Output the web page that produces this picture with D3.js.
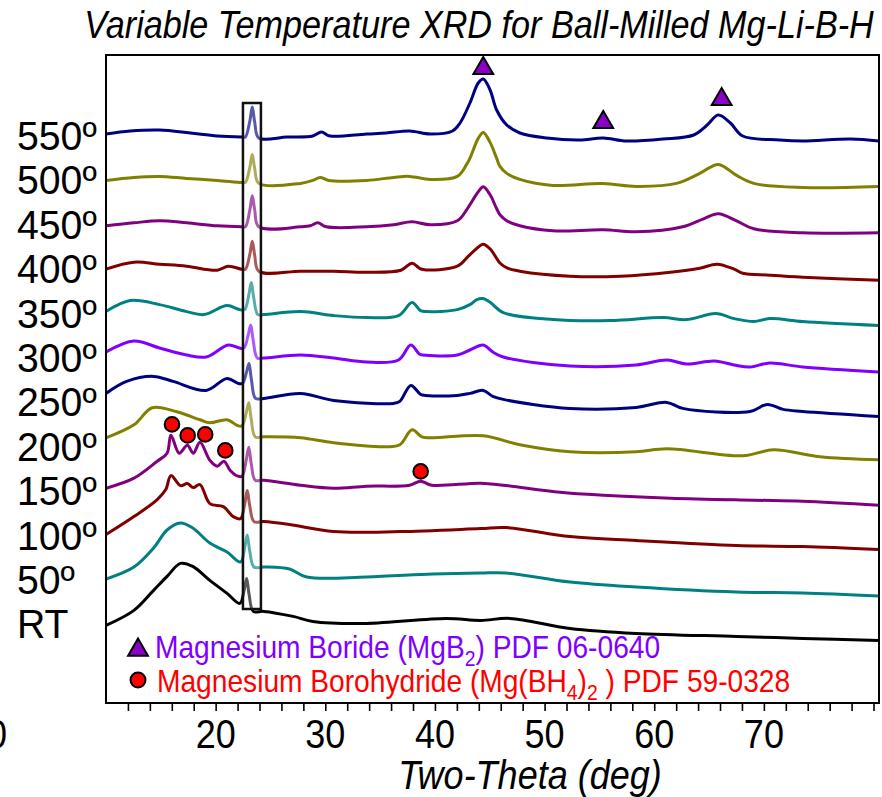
<!DOCTYPE html>
<html>
<head>
<meta charset="utf-8">
<script src="https://cdn.jsdelivr.net/npm/d3@7"></script>
<style>
html, body { margin: 0; padding: 0; background: #fff; }
svg { display: block; }
text { font-family: "Liberation Sans", Arial, sans-serif; }
</style>
</head>
<body>
<div id="chart"></div>
<script>
// [two-theta (deg), intensity (a.u.) above the pattern's own baseline]
var rt = [[10.00,13],[12.55,28],[14.34,48],[15.57,62],[16.79,75],[17.91,72],[19.47,58],[21.04,45],[22.21,35],[22.60,48],[22.83,60],[23.05,44],[23.44,27],[24.39,27],[27.07,22],[28.86,17],[33.77,15],[41.04,20],[44.16,18],[46.85,20],[52.32,10],[58.35,5],[67.51,2],[73.55,0],[80.50,-2]];
var t50 = [[10.00,15],[12.55,27],[14.34,46],[15.57,64],[16.79,71],[17.91,66],[19.47,51],[21.04,42],[22.27,32],[22.66,47],[22.88,59],[23.11,43],[23.50,27],[24.39,27],[26.74,25],[28.30,17],[33.77,17],[39.81,20],[44.16,21],[46.51,21],[52.32,12],[58.35,7],[67.51,2],[73.55,1],[80.50,-2]];
var t100 = [[10.00,15],[12.55,33],[14.67,50],[15.45,60],[15.92,74],[16.79,64],[17.42,66],[17.96,62],[18.57,65],[19.47,46],[20.70,43],[21.60,33],[22.27,31],[22.66,46],[22.88,59],[23.11,44],[23.50,28],[24.39,28],[26.74,25],[30.76,18],[36.79,18],[44.16,21],[46.51,22],[52.32,13],[58.35,9],[67.51,4],[73.55,3],[80.50,0]];
var t150 = [[10.00,17],[12.55,27],[14.67,44],[15.57,52],[15.92,70],[16.68,52],[17.42,60],[17.96,52],[18.57,63],[19.47,45],[20.15,39],[20.76,44],[21.31,35],[22.04,29],[22.41,29],[22.79,45],[23.02,58],[23.24,42],[23.61,25],[24.39,25],[27.74,20],[30.76,17],[33.77,19],[37.69,20],[38.69,24],[39.70,20],[44.16,22],[46.23,20],[51.43,13],[55.34,10],[61.48,7],[69.08,5],[73.55,4],[80.50,0]];
var t200 = [[10.00,23],[12.55,36],[14.22,53],[16.46,49],[18.58,41],[19.47,38],[21.04,41],[22.04,35],[22.41,35],[22.79,48],[23.02,58],[23.24,42],[23.61,24],[24.39,24],[27.74,23],[30.76,18],[35.56,14],[36.79,16],[37.91,31],[38.80,24],[39.58,23],[44.39,25],[47.74,16],[52.32,9],[58.35,9],[61.15,12],[68.07,5],[70.87,11],[75.11,4],[80.50,1]];
var t250 = [[10.00,23],[11.88,35],[14.34,40],[16.12,35],[19.14,26],[21.04,38],[22.04,33],[22.44,33],[22.81,44],[23.04,53],[23.26,37],[23.64,18],[24.39,18],[27.74,23],[30.76,16],[36.23,13],[36.79,15],[37.80,31],[38.69,22],[39.14,21],[42.04,21],[43.19,23],[44.39,26],[45.28,20],[46.23,17],[52.32,8],[58.35,9],[61.15,14],[62.60,8],[68.74,5],[70.31,12],[71.76,7],[73.55,5],[80.50,0]];
var t300 = [[10.00,20],[12.55,31],[14.89,24],[17.35,17],[19.14,15],[21.15,27],[22.16,24],[22.58,24],[22.97,37],[23.20,47],[23.42,32],[23.80,14],[24.39,14],[27.74,17],[30.76,14],[33.77,10],[36.68,12],[37.80,27],[38.58,18],[38.91,17],[42.04,17],[43.19,22],[44.39,27],[45.28,20],[46.23,15],[52.32,6],[58.35,7],[61.15,12],[62.93,8],[65.50,11],[67.29,7],[68.74,5],[70.53,9],[73.55,5],[80.50,0]];
var t350 = [[10.00,16],[12.21,27],[14.89,23],[17.35,16],[18.92,13],[21.04,22],[22.16,18],[22.64,18],[23.03,33],[23.25,45],[23.47,30],[23.85,13],[24.39,13],[27.74,16],[30.76,12],[33.77,10],[36.68,12],[37.91,25],[38.69,17],[39.25,16],[42.04,18],[43.19,23],[43.83,28],[44.39,29],[45.06,25],[46.23,15],[50.76,8],[56.01,7],[60.81,10],[62.93,8],[65.62,14],[67.29,9],[69.08,6],[70.53,9],[73.55,6],[80.50,2]];
var t400 = [[10.00,14],[12.55,21],[14.89,19],[17.35,17],[20.15,13],[21.15,17],[22.38,14],[22.71,14],[23.12,29],[23.34,42],[23.56,28],[23.94,12],[27.74,12],[30.76,12],[33.77,11],[36.90,13],[37.91,20],[38.80,14],[42.04,17],[43.05,27],[43.83,35],[44.39,39],[45.06,34],[45.95,20],[46.62,15],[47.74,12],[52.32,7],[56.90,7],[61.48,11],[64.16,15],[65.73,19],[67.29,14],[68.07,10],[70.53,8],[73.55,6],[80.50,3]];
var t450 = [[10.00,13],[12.55,16],[14.89,18],[17.35,16],[20.15,13],[22.38,12],[22.71,12],[23.12,29],[23.34,43],[23.56,29],[23.94,12],[27.74,12],[28.64,13],[29.31,16],[30.09,12],[33.77,12],[36.23,14],[37.91,17],[39.58,14],[42.04,18],[42.89,29],[43.19,34],[43.95,47],[44.41,52],[45.03,44],[45.63,30],[45.93,24],[46.55,18],[47.74,13],[50.76,8],[55.34,9],[58.35,7],[62.60,12],[64.50,20],[65.84,25],[67.51,18],[69.08,10],[73.55,6],[80.50,6]];
var t500 = [[10.00,14],[12.55,17],[14.89,18],[17.35,16],[20.15,14],[22.38,12],[22.71,12],[23.12,27],[23.34,40],[23.56,26],[23.94,11],[27.74,11],[28.86,14],[29.53,17],[30.31,14],[33.77,14],[36.23,17],[37.69,18],[39.58,15],[42.04,18],[42.89,30],[43.19,36],[43.95,56],[44.41,62],[45.03,52],[45.63,36],[45.93,28],[46.55,21],[47.74,15],[50.76,9],[55.34,11],[58.35,8],[62.04,11],[64.16,21],[65.84,30],[67.51,19],[69.08,11],[73.55,7],[80.50,8]];
var t550 = [[10.00,16],[12.21,19],[14.89,20],[17.69,17],[20.15,14],[22.38,13],[22.71,13],[23.12,29],[23.34,43],[23.56,28],[23.94,12],[26.51,13],[28.86,14],[29.64,18],[30.42,14],[33.77,16],[35.56,17],[37.69,19],[39.58,16],[41.60,19],[42.29,27],[43.19,47],[43.95,67],[44.41,71],[45.03,60],[45.63,40],[46.55,25],[47.75,17],[50.20,12],[53.21,10],[55.34,12],[57.46,9],[60.81,11],[63.60,15],[64.83,25],[65.84,35],[66.95,27],[68.07,14],[71.43,10],[73.55,9],[77.91,11],[80.50,9]];

var patterns = [rt, t50, t100, t150, t200, t250, t300, t350, t400, t450, t500, t550];
var temps = ['RT', '50º', '100º', '150º', '200º', '250º', '300º', '350º', '400º', '450º', '500º', '550º'];
var colors = ['#000000', '#008080', '#800000', '#800080', '#808000', '#000080', '#8000ff', '#008080', '#800000', '#800080', '#808000', '#000080'];
var stackStep = 44.4;
var yDomain = [-64.6, 583.4];

var xLabels = [20, 30, 40, 50, 60, 70];
var xMinor = d3.range(12, 80.5, 2);

// reference peak markers [two-theta, height on the stacked scale]
var mgb2Peaks = [[44.41, 573], [55.35, 519], [66.15, 542]];
var mgbh4Peaks = [[16.02, 214], [17.45, 203], [19.05, 204], [20.88, 188], [38.70, 167]];
var boxTheta = [22.49, 24.13];
var boxHeight = [29.4, 535.4];

var legendItems = [
    { marker: 'triangle', color: '#8000ff', parts: [['Magnesium Boride (MgB'], ['2', 1], [') PDF 06-0640']] },
    { marker: 'circle', color: '#ff0000', parts: [['Magnesium Borohydride (Mg(BH'], ['4', 1], [')'], ['2', 1], [' ) PDF 59-0328']] }
];

function Chart(container) {
    this.container = container;
    this.width = 882;
    this.height = 797;
    this.plot = { left: 106, right: 879, top: 55, bottom: 703 };
    this.svg = this.create();
    this.x = d3.scaleLinear()
        .domain([d3.min(patterns, function(p) { return p[0][0]; }), d3.max(patterns, function(p) { return p[p.length - 1][0]; })])
        .range([this.plot.left, this.plot.right]);
    this.y = d3.scaleLinear().domain(yDomain).range([this.plot.bottom, this.plot.top]);
    this.drawPatterns();
    this.drawBox();
    this.drawMarkers();
    this.drawFrame();
    this.drawAxis();
    this.drawLabels();
    this.drawLegend();
}

Chart.prototype.create = function() {
    var svg = d3.select(this.container).append('svg')
        .attr('width', this.width)
        .attr('height', this.height);
    svg.append('rect').attr('width', this.width).attr('height', this.height).attr('fill', '#fff');
    svg.append('clipPath').attr('id', 'plot-clip')
        .append('rect')
        .attr('x', this.plot.left)
        .attr('y', this.plot.top)
        .attr('width', this.plot.right - this.plot.left)
        .attr('height', this.plot.bottom - this.plot.top);
    return svg;
};

// narrow look of the original lettering
Chart.prototype.text = function(parent, x, y, str, size, opts) {
    opts = opts || {};
    var g = parent.append('g')
        .attr('transform', 'translate(' + x + ',' + y + ') scale(' + (opts.squeeze || 0.9) + ',1)');
    return g.append('text')
        .attr('font-size', size)
        .attr('font-style', opts.italic ? 'italic' : 'normal')
        .attr('text-anchor', opts.anchor || 'start')
        .attr('fill', opts.fill || '#000')
        .text(str);
};

Chart.prototype.drawPatterns = function() {
    var self = this;
    var g = this.svg.append('g').attr('class', 'patterns').attr('clip-path', 'url(#plot-clip)');
    patterns.forEach(function(pts, i) {
        var base = i * stackStep;
        var line = d3.line()
            .x(function(d) { return self.x(d[0]); })
            .y(function(d) { return self.y(base + d[1]); })
            .curve(d3.curveCatmullRom.alpha(0.5));
        g.append('path')
            .attr('d', line(pts))
            .attr('fill', 'none')
            .attr('stroke', colors[i])
            .attr('stroke-width', 3)
            .attr('stroke-linejoin', 'round');
    });
};

Chart.prototype.drawBox = function() {
    var x0 = this.x(boxTheta[0]), x1 = this.x(boxTheta[1]);
    var y0 = this.y(boxHeight[1]), y1 = this.y(boxHeight[0]);
    this.svg.append('rect')
        .attr('x', x0).attr('y', y0)
        .attr('width', x1 - x0).attr('height', y1 - y0)
        .attr('fill', '#fff').attr('fill-opacity', 0.35);
    this.svg.append('rect')
        .attr('x', x0).attr('y', y0)
        .attr('width', x1 - x0).attr('height', y1 - y0)
        .attr('fill', 'none').attr('stroke', '#111').attr('stroke-width', 2.5);
};

Chart.prototype.drawMarkers = function() {
    var self = this;
    var tri = d3.symbol(d3.symbolTriangle, 170);
    this.svg.append('g').selectAll('path').data(mgb2Peaks).join('path')
        .attr('d', tri)
        .attr('transform', function(d) { return 'translate(' + self.x(d[0]) + ',' + (self.y(d[1]) + 3) + ')'; })
        .attr('fill', '#8a00c8').attr('stroke', '#000').attr('stroke-width', 2);
    this.svg.append('g').selectAll('circle').data(mgbh4Peaks).join('circle')
        .attr('cx', function(d) { return self.x(d[0]); })
        .attr('cy', function(d) { return self.y(d[1]); })
        .attr('r', 7.3)
        .attr('fill', '#ff0000').attr('stroke', '#000').attr('stroke-width', 2);
};

Chart.prototype.drawFrame = function() {
    this.svg.append('rect')
        .attr('x', this.plot.left).attr('y', this.plot.top)
        .attr('width', this.plot.right - this.plot.left)
        .attr('height', this.plot.bottom - this.plot.top)
        .attr('fill', 'none').attr('stroke', '#000').attr('stroke-width', 2);
};

Chart.prototype.drawAxis = function() {
    var self = this;
    var axis = this.svg.append('g')
        .attr('transform', 'translate(0,' + this.plot.bottom + ')')
        .call(d3.axisBottom(this.x).tickValues(xMinor).tickSize(8).tickFormat(''));
    axis.select('.domain').remove();
    axis.selectAll('line').attr('stroke-width', 1.6);
    xLabels.forEach(function(v) {
        self.text(self.svg, self.x(v), 748, v, 40, { anchor: 'middle' });
    });
    this.text(this.svg, 7, 748, '10', 40, { anchor: 'end' });
    this.text(this.svg, 530, 789, 'Two-Theta (deg)', 40, { anchor: 'middle', italic: true });
};

Chart.prototype.drawLabels = function() {
    var self = this;
    this.text(this.svg, 479, 38, 'Variable Temperature XRD for Ball-Milled Mg-Li-B-H', 38, { anchor: 'middle', italic: true });
    temps.forEach(function(t, i) {
        self.text(self.svg, 17, self.y(i * stackStep), t, 40, { squeeze: 0.98 });
    });
};

Chart.prototype.drawLegend = function() {
    var self = this;
    var rows = [{ mx: 138, my: 650, tx: 155, ty: 658 }, { mx: 138, my: 680, tx: 157, ty: 692 }];
    legendItems.forEach(function(item, i) {
        var r = rows[i];
        if (item.marker === 'triangle') {
            self.svg.append('path')
                .attr('d', d3.symbol(d3.symbolTriangle, 170)())
                .attr('transform', 'translate(' + r.mx + ',' + r.my + ')')
                .attr('fill', '#8a00c8').attr('stroke', '#000').attr('stroke-width', 2);
        } else {
            self.svg.append('circle')
                .attr('cx', r.mx).attr('cy', r.my).attr('r', 7.5)
                .attr('fill', '#ff0000').attr('stroke', '#000').attr('stroke-width', 2);
        }
        var t = self.text(self.svg, r.tx, r.ty, '', 32, { squeeze: 0.88, fill: item.color });
        item.parts.forEach(function(p, k) {
            var sub = p[1] === 1;
            var prevSub = k > 0 && item.parts[k - 1][1] === 1;
            var dy = sub && !prevSub ? 8 : (!sub && prevSub ? -8 : 0);
            t.append('tspan')
                .attr('font-size', sub ? 22 : 32)
                .attr('dy', dy)
                .text(p[0]);
        });
    });
};

new Chart(document.getElementById('chart'));
</script>
</body>
</html>
